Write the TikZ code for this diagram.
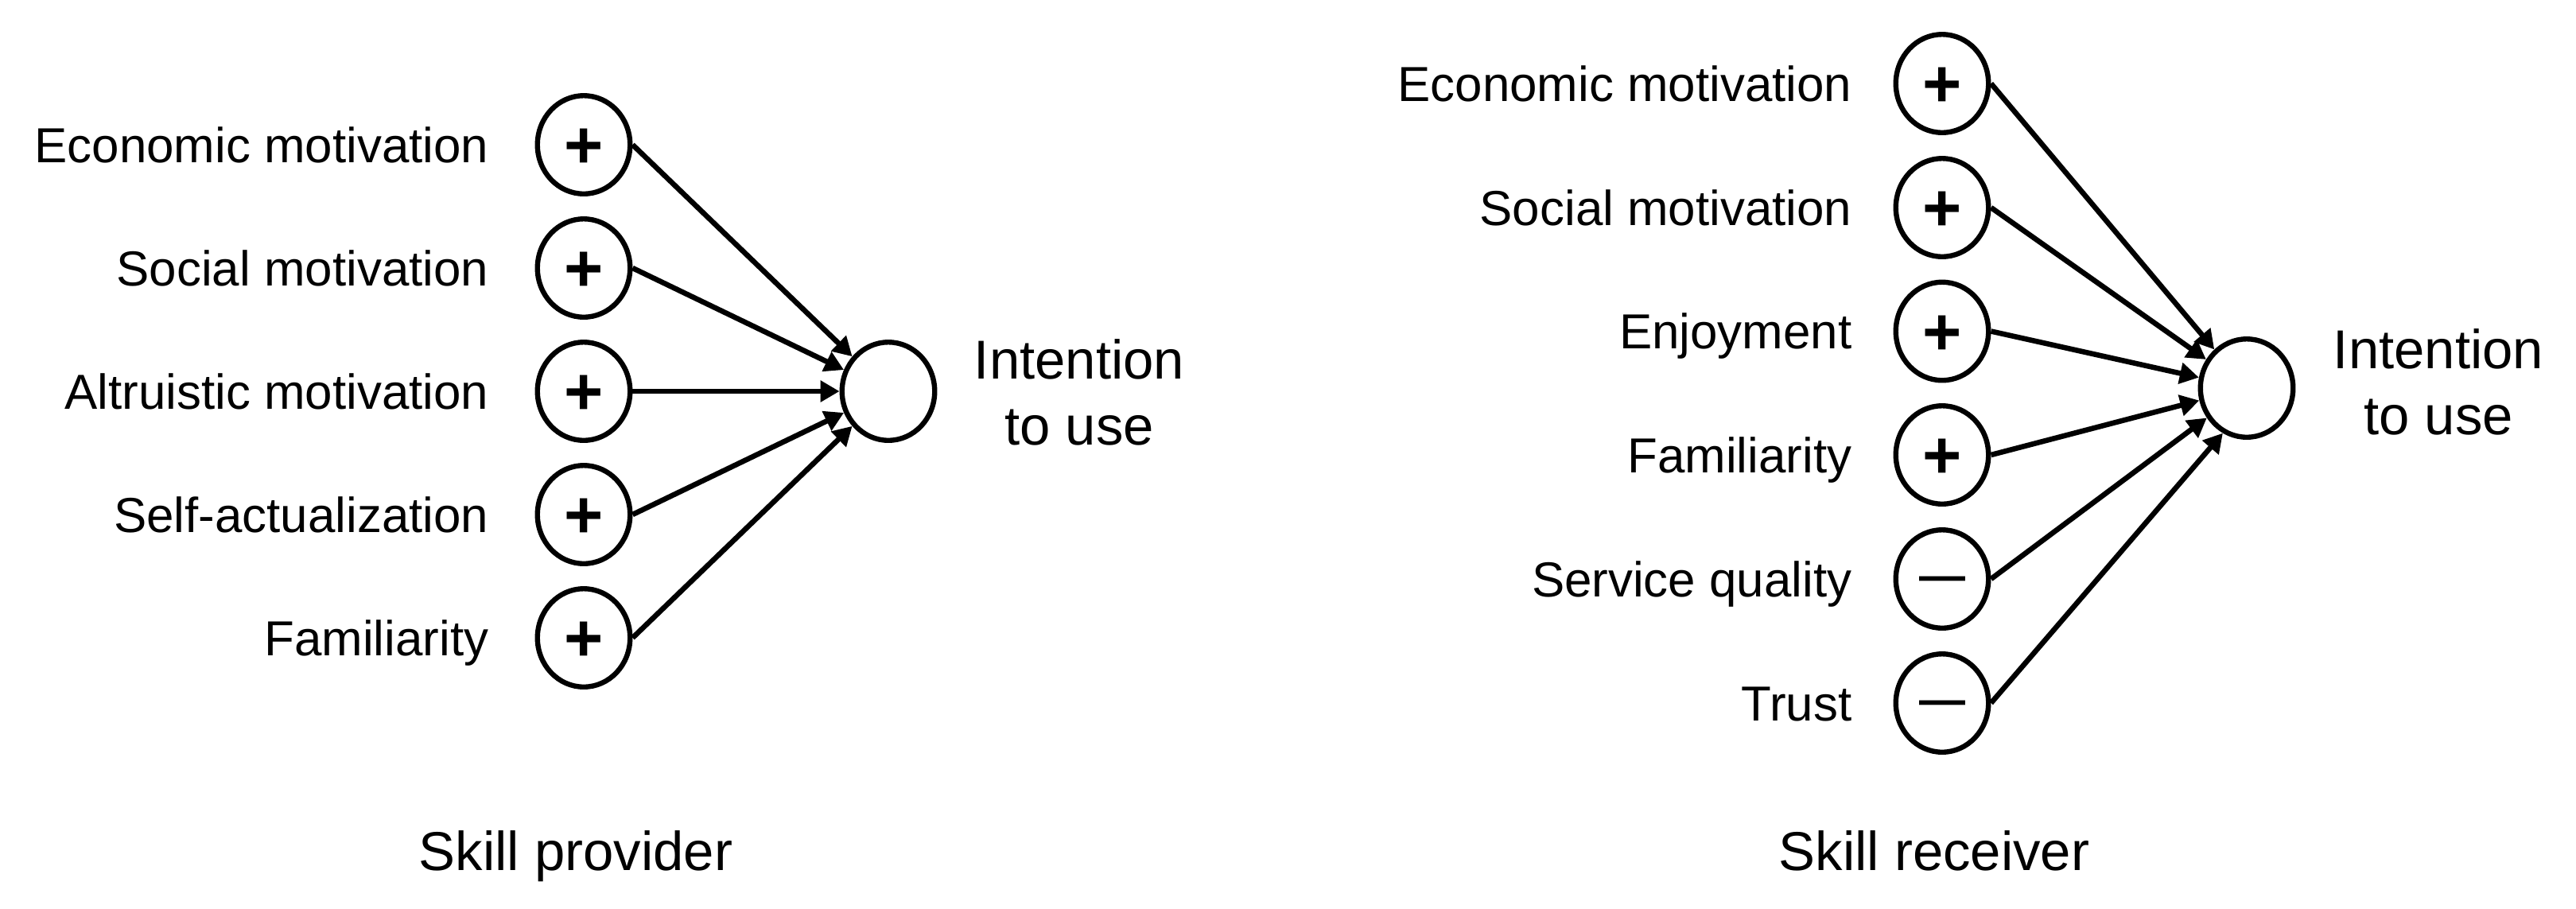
\documentclass[tikz,border=0pt]{standalone}
\usepackage{fontspec}
\setmainfont{Liberation Sans}
\usetikzlibrary{arrows.meta,shapes.geometric}
\begin{document}
\begin{tikzpicture}[line width=0.066cm,
fac/.style ={draw,shape=ellipse,inner sep=0pt,minimum width=1.165cm,minimum height=1.235cm,line width=0.064cm},
pl/.style ={font=\fontsize{24}{24}\selectfont\bfseries,text height=16.8pt,text depth=0pt},
mi/.style ={font=\fontsize{16.5}{16.5}\selectfont\bfseries,text height=8.8pt,text depth=0pt},
lbl/.style ={font=\fontsize{17.6}{21}\selectfont,inner sep=0pt,text height=0.444cm,text depth=0pt},
big/.style ={font=\fontsize{19.6}{23.6}\selectfont,inner sep=0pt,align=center},
arr/.style ={-{Triangle[length=0.24cm,width=0.26cm]}}]

\useasboundingbox (0,0) rectangle (32.39,-11.42);

%provider
\begin{scope}[label distance=0.55cm]
\node[fac,pl,label={[lbl]left:Economic motivation}] (e1) at (7.34,-1.82) {+};
\node[fac,pl,label={[lbl]left:Social motivation}] (e2) at (7.34,-3.37) {+};
\node[fac,pl,label={[lbl]left:Altruistic motivation}] (e3) at (7.34,-4.92) {+};
\node[fac,pl,label={[lbl]left:Self-actualization}] (e4) at (7.34,-6.47) {+};
\node[fac,pl,label={[lbl]left:Familiarity}] (e5) at (7.34,-8.02) {+};
\end{scope}

\node[fac] (t1) at (11.17,-4.92) {};
\node[big] (i1) at (13.57,-4.935) {Intention\\to use};

\path (e1.east) edge [arr] (t1);
\path (e2.east) edge [arr] (t1);
\path (e3.east) edge [arr] (t1);
\path (e4.east) edge [arr] (t1);
\path (e5.east) edge [arr] (t1);

\node[big,anchor=base] (p1) at (7.24,-10.94) {Skill provider};

%receiver
\begin{scope}[label distance=0.49cm]
\node[fac,pl,label={[lbl]left:Economic motivation}] (r1) at (24.42,-1.05) {+};
\node[fac,pl,label={[lbl]left:Social motivation}] (r2) at (24.42,-2.61) {+};
\node[fac,pl,label={[lbl]left:Enjoyment}] (r3) at (24.42,-4.165) {+};
\node[fac,pl,label={[lbl]left:Familiarity}] (r4) at (24.42,-5.72) {+};
\node[fac,mi,label={[lbl]left:Service quality}] (r5) at (24.42,-7.28) {—};
\node[fac,mi,label={[lbl]left:Trust}] (r6) at (24.42,-8.84) {—};
\end{scope}

\node[fac] (t2) at (28.25,-4.88) {};
\node[big] (i2) at (30.66,-4.80) {Intention\\to use};

\path (r1.east) edge [arr] (t2);
\path (r2.east) edge [arr] (t2);
\path (r3.east) edge [arr] (t2);
\path (r4.east) edge [arr] (t2);
\path (r5.east) edge [arr] (t2);
\path (r6.east) edge [arr] (t2.242);

\node[big,anchor=base] (p2) at (24.32,-10.94) {Skill receiver};
\end{tikzpicture}
\end{document}
